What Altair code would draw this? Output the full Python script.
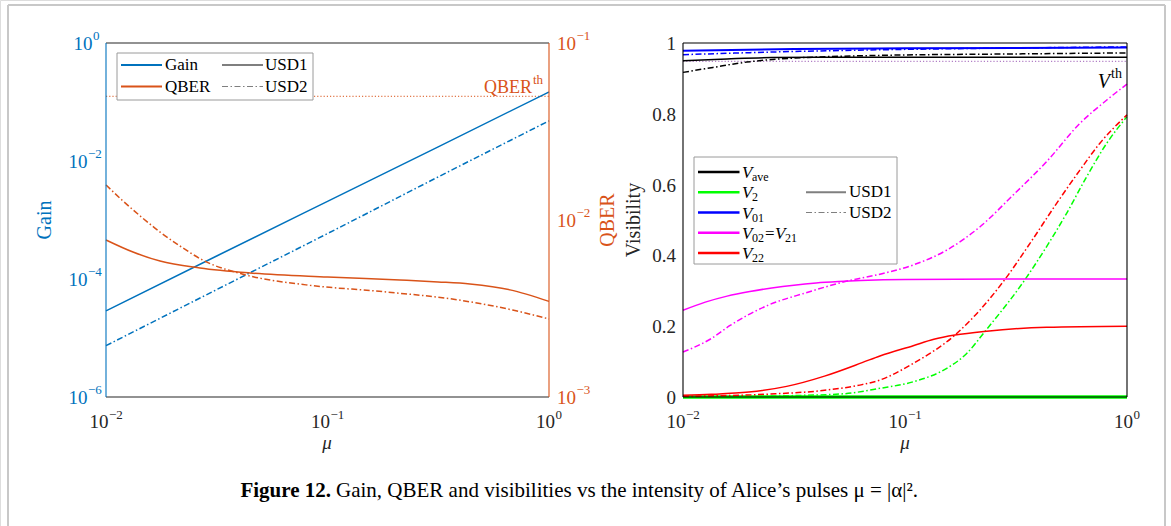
import altair as alt
import pandas as pd

# ---------------- data ----------------
# Left panel: Gain (left log axis) and QBER (right log axis) vs mu
GAIN1_MU = [0.01, 0.0316, 0.1, 0.316, 1.0]
GAIN1 = [2.88e-5, 2.45e-4, 2.07e-3, 1.74e-2, 0.148]
GAIN2_MU = [0.01, 0.0316, 0.1, 0.316, 1.0]
GAIN2 = [7.41e-6, 6.61e-5, 5.89e-4, 5.37e-3, 4.79e-2]

QBER1_MU = [0.01, 0.01324, 0.01754, 0.02655, 0.04467, 0.1, 0.2123, 0.3155, 0.4395, 0.6668, 1.0]
QBER1 = [0.00771, 0.00659, 0.00586, 0.00536, 0.00502, 0.00476, 0.00458, 0.00447, 0.00435, 0.00403, 0.00347]
QBER2_MU = [0.01, 0.0118, 0.01426, 0.01754, 0.02158, 0.02729, 0.04227, 0.07998, 0.177, 0.3926, 0.6855, 1.0]
QBER2 = [0.01578, 0.01297, 0.01054, 0.00855, 0.00713, 0.00594, 0.00491, 0.00430, 0.00394, 0.00353, 0.00310, 0.00276]
QBER_TH_MU = [0.01, 1.0]
QBER_TH = [0.05, 0.05]

# Right panel: visibilities vs mu
VAVE1_MU = [0.01, 0.0158, 0.0251, 0.0398, 0.1, 1.0]
VAVE1 = [0.950, 0.955, 0.959, 0.960, 0.960, 0.960]
VAVE2_MU = [0.01, 0.01365, 0.01936, 0.02735, 0.0771, 0.3, 1.0]
VAVE2 = [0.917, 0.931, 0.946, 0.955, 0.965, 0.969, 0.972]
V01_1_MU = [0.01, 0.0316, 0.1, 1.0]
V01_1 = [0.978, 0.983, 0.985, 0.987]
V01_2_MU = [0.01, 0.0316, 0.1, 0.316, 1.0]
V01_2 = [0.967, 0.976, 0.982, 0.986, 0.989]
V2_1_MU = [0.01, 1.0]
V2_1 = [0.0, 0.0]
V2_2_MU = [0.01, 0.0316, 0.0527, 0.0771, 0.1089, 0.1542, 0.1897, 0.2291, 0.3475, 0.4345, 0.5346, 0.6577, 0.811, 1.0]
V2_2 = [0.0, 0.004, 0.009, 0.0245, 0.043, 0.081, 0.123, 0.185, 0.332, 0.425, 0.519, 0.622, 0.717, 0.792]
V02_1_MU = [0.01, 0.0126, 0.0158, 0.02, 0.0251, 0.0316, 0.0398, 0.0501, 0.0631, 0.1, 0.316, 1.0]
V02_1 = [0.245, 0.268, 0.285, 0.298, 0.308, 0.316, 0.322, 0.326, 0.329, 0.332, 0.333, 0.333]
V02_2_MU = [0.01, 0.0134, 0.0163, 0.0241, 0.0356, 0.057, 0.0771, 0.1089, 0.1542, 0.2178, 0.3076, 0.4345, 0.6138, 0.811, 1.0]
V02_2 = [0.127, 0.165, 0.202, 0.259, 0.294, 0.330, 0.347, 0.373, 0.415, 0.481, 0.571, 0.665, 0.773, 0.839, 0.884]
V22_1_MU = [0.01, 0.0134, 0.0198, 0.0293, 0.0434, 0.0641, 0.0771, 0.1089, 0.1349, 0.1679, 0.2333, 0.4345, 1.0]
V22_1 = [0.005, 0.0075, 0.014, 0.030, 0.059, 0.097, 0.116, 0.145, 0.163, 0.175, 0.186, 0.197, 0.200]
V22_2_MU = [0.01, 0.0241, 0.0434, 0.0641, 0.0771, 0.1089, 0.1679, 0.2178, 0.2818, 0.3656, 0.4819, 0.6138, 0.7551, 1.0]
V22_2 = [0.002, 0.008, 0.019, 0.035, 0.048, 0.095, 0.175, 0.246, 0.332, 0.434, 0.547, 0.641, 0.717, 0.797]
VTH_MU = [0.01, 1.0]
VTH = [0.948, 0.948]

# tick labels
X_TICKS = [0.01, 0.1, 1.0]
X_EXPS = ["\u22122", "\u22121", "0"]
GAIN_TICKS = [1.0, 1e-2, 1e-4, 1e-6]
GAIN_EXPS = ["0", "\u22122", "\u22124", "\u22126"]
QBER_TICKS = [1e-1, 1e-2, 1e-3]
QBER_EXPS = ["\u22121", "\u22122", "\u22123"]
VIS_TICKS = [0.0, 0.2, 0.4, 0.6, 0.8, 1.0]
VIS_LABELS = ["0", "0.2", "0.4", "0.6", "0.8", "1"]

# ---------------- styles ----------------
FONT = "Liberation Serif"
BLUE = "#0072BD"
ORANGE = "#D95319"
AXC = "#262626"
DASHDOT = [6, 2.5, 1.5, 2.5]

xL = alt.Scale(type="log", domain=[0.01, 1], range=[106, 549], nice=False)
yG = alt.Scale(type="log", domain=[1e-6, 1], range=[397, 43], nice=False)
yQ = alt.Scale(type="log", domain=[1e-3, 1e-1], range=[397, 43], nice=False)
xR = alt.Scale(type="log", domain=[0.01, 1], range=[683, 1127], nice=False)
yV = alt.Scale(type="linear", domain=[0, 1], range=[397, 43], nice=False, zero=False)

ONE = pd.DataFrame({"k": [0]})
layers = []


def series(mu, vals, xs, ys, color, dash=None, width=1.5, interp="monotone"):
    df = pd.DataFrame({"mu": mu, "v": vals})
    kw = dict(color=color, strokeWidth=width, interpolate=interp)
    if dash is not None:
        kw["strokeDash"] = dash
    return alt.Chart(df).mark_line(**kw).encode(
        x=alt.X("mu:Q", scale=xs, axis=None),
        y=alt.Y("v:Q", scale=ys, axis=None),
    )


def txt(text, x, y, size, color="black", align="left", baseline="alphabetic",
        italic=False, bold=False, angle=None):
    kw = dict(text=text, font=FONT, fontSize=size, color=color, align=align,
              baseline=baseline)
    if italic:
        kw["fontStyle"] = "italic"
    if bold:
        kw["fontWeight"] = "bold"
    if angle is not None:
        kw["angle"] = angle
    return alt.Chart(ONE).mark_text(**kw).encode(x=alt.value(x), y=alt.value(y))


def hrule(x1, x2, y, color, width=1.0, dash=None):
    kw = dict(color=color, strokeWidth=width)
    if dash is not None:
        kw["strokeDash"] = dash
    return alt.Chart(ONE).mark_rule(**kw).encode(
        x=alt.value(x1), x2=alt.value(x2), y=alt.value(y))


def vrule(x, y1, y2, color, width=1.0):
    return alt.Chart(ONE).mark_rule(color=color, strokeWidth=width).encode(
        x=alt.value(x), y=alt.value(y1), y2=alt.value(y2))


def box(x1, y1, x2, y2, stroke, width=1.0):
    return alt.Chart(ONE).mark_rect(fill="white", stroke=stroke, strokeWidth=width).encode(
        x=alt.value(x1), x2=alt.value(x2), y=alt.value(y1), y2=alt.value(y2))


def xpow_labels(ticks, exps, xs, ybase, color):
    out = []
    for t, e in zip(ticks, exps):
        df = pd.DataFrame({"t": [t], "e": [e]})
        dx = 6 if e == "0" else 2.5
        base = alt.Chart(df).mark_text(text="10", font=FONT, fontSize=19, color=color,
                                       align="right", dx=dx).encode(
            x=alt.X("t:Q", scale=xs, axis=None), y=alt.value(ybase))
        ex = alt.Chart(df).mark_text(font=FONT, fontSize=13, color=color,
                                     align="left", dx=dx + 0.5).encode(
            x=alt.X("t:Q", scale=xs, axis=None), y=alt.value(ybase - 7),
            text="e:N")
        out += [base, ex]
    return out


def ypow_labels(ticks, exps, ys, xpos_exp, color, side):
    out = []
    for t, e in zip(ticks, exps):
        df = pd.DataFrame({"t": [t], "e": [e]})
        if side == "left":
            ex_x = xpos_exp - (7 if e == "0" else 12)
            base_x = ex_x - 0.5
            balign = "right"
        else:
            base_x = xpos_exp
            ex_x = xpos_exp + 19.5
            balign = "left"
        base = alt.Chart(df).mark_text(text="10", font=FONT, fontSize=19, color=color,
                                       align=balign, dy=1).encode(
            x=alt.value(base_x), y=alt.Y("t:Q", scale=ys, axis=None))
        ex = alt.Chart(df).mark_text(font=FONT, fontSize=13, color=color,
                                     align="left", dy=-7.5).encode(
            x=alt.value(ex_x), y=alt.Y("t:Q", scale=ys, axis=None), text="e:N")
        out += [base, ex]
    return out


# ---------------- left panel ----------------
layers += [
    series(QBER_TH_MU, QBER_TH, xL, yQ, ORANGE, dash=[1.2, 2], width=1.0, interp="linear"),
    series(GAIN1_MU, GAIN1, xL, yG, BLUE),
    series(GAIN2_MU, GAIN2, xL, yG, BLUE, dash=DASHDOT),
    series(QBER1_MU, QBER1, xL, yQ, ORANGE),
    series(QBER2_MU, QBER2, xL, yQ, ORANGE, dash=DASHDOT),
]
layers += [
    hrule(106, 549, 43, AXC, 1.1),
    hrule(106, 549, 397, AXC, 1.1),
    vrule(106, 43, 397, BLUE, 1.1),
    vrule(549, 43, 397, ORANGE, 1.1),
]
layers += xpow_labels(X_TICKS, X_EXPS, xL, 422, AXC)
layers += ypow_labels(GAIN_TICKS, GAIN_EXPS, yG, 100, BLUE, "left")
layers += ypow_labels(QBER_TICKS, QBER_EXPS, yQ, 557, ORANGE, "right")
layers += [
    txt("Gain", 45, 220, 20, BLUE, align="center", baseline="middle", angle=270),
    txt("QBER", 608, 220, 20, ORANGE, align="center", baseline="middle", angle=270),
    txt("\u03bc", 327, 449, 19, AXC, align="center", italic=True),
    txt("QBER", 532, 93, 18, ORANGE, align="right"),
    txt("th", 533, 84, 13, ORANGE),
]
# left legend
layers += [
    box(117, 53, 313, 100, "#9a9a9a"),
    hrule(121, 162, 65, BLUE, 2),
    txt("Gain", 165, 65, 17, "black", baseline="middle"),
    hrule(121, 162, 86.5, ORANGE, 2),
    txt("QBER", 165, 86.5, 17, "black", baseline="middle"),
    hrule(222, 263, 65, "#7f7f7f", 2),
    txt("USD1", 265, 65, 17, "black", baseline="middle"),
    hrule(222, 263, 86.5, "#7f7f7f", 1.2, dash=DASHDOT),
    txt("USD2", 265, 86.5, 17, "black", baseline="middle"),
]

# ---------------- right panel ----------------
layers += [
    series(VTH_MU, VTH, xR, yV, "#b27fc6", dash=[1.2, 2], width=1.2, interp="linear"),
    series(V2_1_MU, V2_1, xR, yV, "#00FF00", width=3.5, interp="linear"),
    series(V2_2_MU, V2_2, xR, yV, "#00FF00", dash=DASHDOT),
    series(V22_1_MU, V22_1, xR, yV, "#FF0000"),
    series(V22_2_MU, V22_2, xR, yV, "#FF0000", dash=DASHDOT),
    series(V02_1_MU, V02_1, xR, yV, "#FF00FF"),
    series(V02_2_MU, V02_2, xR, yV, "#FF00FF", dash=DASHDOT),
    series(VAVE1_MU, VAVE1, xR, yV, "black"),
    series(VAVE2_MU, VAVE2, xR, yV, "black", dash=DASHDOT),
    series(V01_1_MU, V01_1, xR, yV, "#0000FF", width=2),
    series(V01_2_MU, V01_2, xR, yV, "#0000FF", dash=DASHDOT),
]
layers += [
    hrule(683, 1127, 43, "black", 1.1),
    hrule(683, 1127, 397, "black", 1.1),
    vrule(683, 43, 397, "black", 1.1),
    vrule(1127, 43, 397, "black", 1.1),
]
layers += xpow_labels(X_TICKS, X_EXPS, xR, 422, AXC)
vis_df = pd.DataFrame({"t": VIS_TICKS, "lab": VIS_LABELS})
layers.append(
    alt.Chart(vis_df).mark_text(font=FONT, fontSize=19, color=AXC, align="right", dy=1).encode(
        x=alt.value(676), y=alt.Y("t:Q", scale=yV, axis=None), text="lab:N")
)
layers += [
    txt("Visibility", 634, 220, 20, AXC, align="center", baseline="middle", angle=270),
    txt("\u03bc", 905, 449, 19, AXC, align="center", italic=True),
    txt("V", 1110, 88, 20, "black", align="right", italic=True),
    txt("th", 1111, 78, 14, "black"),
]
# right legend
rows = [172, 192.3, 212.5, 232.8, 253]
layers += [
    box(694, 157, 897, 264, "#9a9a9a"),
    hrule(698, 739.5, rows[0], "black", 2.5),
    hrule(698, 739.5, rows[1], "#00FF00", 2.5),
    hrule(698, 739.5, rows[2], "#0000FF", 2.5),
    hrule(698, 739.5, rows[3], "#FF00FF", 2.5),
    hrule(698, 739.5, rows[4], "#FF0000", 2.5),
    txt("V", 742, rows[0] + 6, 17, "black", italic=True),
    txt("ave", 752, rows[0] + 9, 12, "black"),
    txt("V", 742, rows[1] + 6, 17, "black", italic=True),
    txt("2", 752, rows[1] + 9, 12, "black"),
    txt("V", 742, rows[2] + 6, 17, "black", italic=True),
    txt("01", 752, rows[2] + 9, 12, "black"),
    txt("V", 742, rows[3] + 6, 17, "black", italic=True),
    txt("02", 752, rows[3] + 9, 12, "black"),
    txt("=", 765, rows[3] + 6, 17, "black"),
    txt("V", 775, rows[3] + 6, 17, "black", italic=True),
    txt("21", 785, rows[3] + 9, 12, "black"),
    txt("V", 742, rows[4] + 6, 17, "black", italic=True),
    txt("22", 752, rows[4] + 9, 12, "black"),
    hrule(806, 846, rows[1], "#7f7f7f", 2),
    txt("USD1", 849, rows[1], 17, "black", baseline="middle"),
    hrule(806, 846, rows[2], "#7f7f7f", 1.2, dash=DASHDOT),
    txt("USD2", 849, rows[2], 17, "black", baseline="middle"),
]

# ---------------- figure frame and caption ----------------
layers += [
    hrule(8, 1165, 5, "#c8c8c8", 2),
    vrule(8, 5, 526, "#c8c8c8", 2),
    vrule(1165, 5, 526, "#c8c8c8", 2),
    txt("Figure 12.", 331, 497, 21, "black", align="right", bold=True),
    txt("Gain, QBER and visibilities vs the intensity of Alice\u2019s pulses \u03bc = |\u03b1|\u00b2.",
        336, 497, 21, "black"),
]

chart = alt.layer(*layers).resolve_scale(x="independent", y="independent").properties(
    width=1171, height=526, padding=0, autosize=alt.AutoSizeParams(type="none")
).configure_view(strokeWidth=0).configure(background="white")

chart.save("out.html", embed_options={"renderer": "svg", "actions": False})
